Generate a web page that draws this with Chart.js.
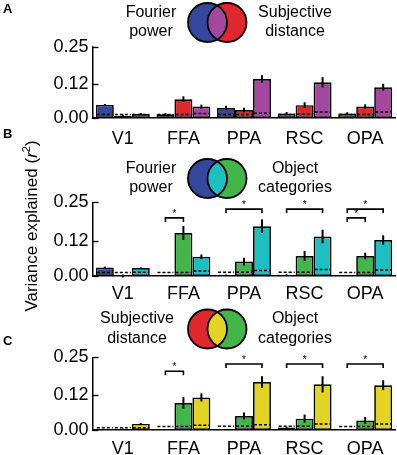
<!DOCTYPE html>
<html>
<head>
<meta charset="utf-8">
<script src="https://cdn.jsdelivr.net/npm/chart.js@4.4.1/dist/chart.umd.min.js"></script>
<style>
    body { margin: 0; background: #fff; width: 397px; height: 455px; overflow: hidden; position: relative; font-family: "Liberation Sans", Arial, sans-serif; }
    .panel { position: absolute; left: 0; }
    .letter { position: absolute; left: 3px; font-weight: bold; font-size: 13px; line-height: 13px; }
    #ytitle { position: absolute; left: 31px; top: 226px; transform: translate(-50%, -50%) rotate(-90deg); white-space: nowrap; font-size: 17px; }
</style>
</head>
<body>
<div class="panel" style="top:0px"><canvas id="chartA" width="397" height="150"></canvas></div>
<div class="panel" style="top:145px"><canvas id="chartB" width="397" height="163"></canvas></div>
<div class="panel" style="top:300px"><canvas id="chartC" width="397" height="162"></canvas></div>
<div class="letter" style="top:2px">A</div>
<div class="letter" style="top:127px">B</div>
<div class="letter" style="top:334px">C</div>
<div id="ytitle">Variance explained (<i>r</i><sup style="font-size:11px">2</sup>)</div>
<script>
// data ------------------------------------------------------------
const regions = ['V1', 'FFA', 'PPA', 'RSC', 'OPA'];
const yTicks = [0, 0.12, 0.25];
const yTickLabels = ['0.00', '0.12', '0.25'];

// A: Fourier power vs subjective distance
const fourierA = [0.046, 0.013, 0.035, 0.016, 0.016];
const distanceA = [0.008, 0.066, 0.028, 0.045, 0.040];
const sharedA = [0.014, 0.040, 0.137, 0.125, 0.108];
const fourierErrA = [0.003, 0.004, 0.008, 0.005, 0.004];
const distanceErrA = [0.004, 0.010, 0.008, 0.010, 0.008];
const sharedErrA = [0.003, 0.007, 0.013, 0.018, 0.012];
const fourierChanceA = [0.012, 0.012, 0.012, 0.012, 0.012];
const distanceChanceA = [0.012, 0.012, 0.012, 0.013, 0.012];
const sharedChanceA = [0.012, 0.016, 0.017, 0.021, 0.021];

// B: Fourier power vs object categories
const fourierB = [0.029, 0.000, 0.003, 0.004, 0.001];
const objectB = [0.000, 0.146, 0.049, 0.068, 0.068];
const sharedB = [0.027, 0.065, 0.169, 0.134, 0.122];
const fourierErrB = [0.003, 0.000, 0.002, 0.002, 0.000];
const objectErrB = [0.005, 0.024, 0.013, 0.017, 0.011];
const sharedErrB = [0.002, 0.008, 0.023, 0.023, 0.016];
const fourierChanceB = [0.012, 0.012, 0.013, 0.013, 0.012];
const objectChanceB = [0.012, 0.012, 0.013, 0.013, 0.012];
const sharedChanceB = [0.013, 0.017, 0.019, 0.022, 0.020];
const bracketsB = [[1, 0, 1, 0.197], [2, 0, 2, 0.227], [3, 0, 2, 0.227], [4, 0, 1, 0.197], [4, 0, 2, 0.227]];

// C: subjective distance vs object categories
const distanceC = [0.002, 0.000, 0.000, 0.009, 0.000];
const objectC = [0.003, 0.093, 0.048, 0.039, 0.033];
const sharedC = [0.021, 0.112, 0.165, 0.157, 0.154];
const distanceErrC = [0.001, 0.000, 0.000, 0.002, 0.000];
const objectErrC = [0.002, 0.020, 0.012, 0.014, 0.012];
const sharedErrC = [0.003, 0.014, 0.020, 0.028, 0.017];
const distanceChanceC = [0.008, 0.012, 0.013, 0.013, 0.012];
const objectChanceC = [0.008, 0.012, 0.013, 0.013, 0.012];
const sharedChanceC = [0.008, 0.016, 0.018, 0.021, 0.021];
const bracketsC = [[1, 0, 1, 0.202], [2, 0, 2, 0.227], [3, 0, 2, 0.227], [4, 0, 2, 0.227]];

const BLUE = '#34479d', RED = '#e1272e', PURPLE = '#a4479e';
const GREEN = '#43b54a', CYAN = '#1ebfc0', YELLOW = '#e3d423';

// error bars, chance lines, brackets, venn legend --------------------
const extras = {
    id: 'extras',
    afterDatasetsDraw(chart, args, opts) {
        const ctx = chart.ctx;
        const y = chart.scales.y;
        const area = chart.chartArea;
        ctx.save();
        ctx.strokeStyle = '#000';

        // inward tick marks on the y axis
        ctx.lineWidth = 1.3;
        yTicks.forEach(v => {
            const yy = Math.round(y.getPixelForValue(v)) + 0.5;
            ctx.beginPath();
            ctx.moveTo(area.left, yy);
            ctx.lineTo(area.left + 6, yy);
            ctx.stroke();
        });

        // chance level, dashed
        ctx.lineWidth = 1.5;
        ctx.setLineDash([3, 2]);
        opts.chance.forEach((arr, i) => {
            chart.getDatasetMeta(i).data.forEach((bar, j) => {
                const yy = y.getPixelForValue(arr[j]);
                ctx.beginPath();
                ctx.moveTo(bar.x - bar.width / 2 + 1, yy);
                ctx.lineTo(bar.x + bar.width / 2 - 1, yy);
                ctx.stroke();
            });
        });
        ctx.setLineDash([]);

        // error bars
        ctx.lineWidth = 2;
        opts.errors.forEach((arr, i) => {
            const values = chart.data.datasets[i].data;
            chart.getDatasetMeta(i).data.forEach((bar, j) => {
                if (!arr[j]) return;
                ctx.beginPath();
                ctx.moveTo(bar.x, y.getPixelForValue(values[j] - arr[j]));
                ctx.lineTo(bar.x, y.getPixelForValue(values[j] + arr[j]));
                ctx.stroke();
            });
        });

        // significance brackets
        ctx.lineWidth = 1.6;
        ctx.fillStyle = '#000';
        ctx.font = '10px "Liberation Sans", Arial, sans-serif';
        ctx.textAlign = 'center';
        ctx.textBaseline = 'alphabetic';
        (opts.brackets || []).forEach(([cat, from, to, v]) => {
            const x1 = chart.getDatasetMeta(from).data[cat].x;
            const x2 = chart.getDatasetMeta(to).data[cat].x;
            const yy = y.getPixelForValue(v);
            ctx.beginPath();
            ctx.moveTo(x1, yy + 4);
            ctx.lineTo(x1, yy);
            ctx.lineTo(x2, yy);
            ctx.lineTo(x2, yy + 4);
            ctx.stroke();
            ctx.fillText('*', (x1 + x2) / 2, yy - 1);
        });

        // venn legend
        const vn = opts.venn;
        const r = 19.5, cxL = 207.5, cxR = 227;
        ctx.fillStyle = vn.colors[0];
        ctx.beginPath(); ctx.arc(cxL, vn.cy, r, 0, Math.PI * 2); ctx.fill();
        ctx.fillStyle = vn.colors[1];
        ctx.beginPath(); ctx.arc(cxR, vn.cy, r, 0, Math.PI * 2); ctx.fill();
        ctx.save();
        ctx.beginPath(); ctx.arc(cxL, vn.cy, r, 0, Math.PI * 2); ctx.clip();
        ctx.fillStyle = vn.colors[2];
        ctx.beginPath(); ctx.arc(cxR, vn.cy, r, 0, Math.PI * 2); ctx.fill();
        ctx.restore();
        ctx.lineWidth = 1.8;
        ctx.beginPath(); ctx.arc(cxL, vn.cy, r, 0, Math.PI * 2); ctx.stroke();
        ctx.beginPath(); ctx.arc(cxR, vn.cy, r, 0, Math.PI * 2); ctx.stroke();

        ctx.fillStyle = '#000';
        ctx.font = '16px "Liberation Sans", Arial, sans-serif';
        vn.left.forEach((t, k) => ctx.fillText(t, vn.leftX, vn.cy - 6 + k * 19.5));
        vn.right.forEach((t, k) => ctx.fillText(t, 295, vn.cy - 6 + k * 19.5));
        ctx.restore();
    }
};

function makePanel(id, series, colors, errors, chance, brackets, venn, padTop, labelPad) {
    new Chart(document.getElementById(id).getContext('2d'), {
        type: 'bar',
        data: {
            labels: regions,
            datasets: series.map((s, i) => ({
                data: s,
                backgroundColor: colors[i],
                borderColor: '#000',
                borderWidth: 1.7,
                borderSkipped: false
            }))
        },
        options: {
            responsive: false,
            animation: false,
            events: [],
            layout: { padding: { top: padTop, right: 1.5, left: 0, bottom: 0 } },
            datasets: { bar: { categoryPercentage: 0.89, barPercentage: 1 } },
            plugins: {
                legend: { display: false },
                tooltip: { enabled: false },
                extras: { errors: errors, chance: chance, brackets: brackets, venn: venn }
            },
            scales: {
                x: {
                    grid: { display: false, drawTicks: false },
                    border: { display: true, color: '#000', width: 1.5 },
                    ticks: { color: '#000', padding: labelPad, font: { family: '"Liberation Sans", Arial, sans-serif', size: 18 } },
                    afterFit: s => { s.height = 32; }
                },
                y: {
                    min: 0,
                    max: 0.25,
                    afterBuildTicks: s => { s.ticks = yTicks.map(v => ({ value: v })); },
                    grid: { display: false, drawTicks: false },
                    border: { display: true, color: '#000', width: 1.5 },
                    ticks: {
                        color: '#000',
                        padding: 4,
                        font: { family: '"Liberation Sans", Arial, sans-serif', size: 18 },
                        callback: (v, i) => yTickLabels[i]
                    },
                    afterFit: s => { s.width = 92.5; }
                }
            }
        },
        plugins: [extras]
    });
}

makePanel('chartA', [fourierA, distanceA, sharedA], [BLUE, RED, PURPLE],
    [fourierErrA, distanceErrA, sharedErrA], [fourierChanceA, distanceChanceA, sharedChanceA], [],
    { cy: 22.5, colors: [BLUE, RED, PURPLE], left: ['Fourier', 'power'], right: ['Subjective', 'distance'], leftX: 151 }, 46.7, 10);

makePanel('chartB', [fourierB, objectB, sharedB], [BLUE, GREEN, CYAN],
    [fourierErrB, objectErrB, sharedErrB], [fourierChanceB, objectChanceB, sharedChanceB], bracketsB,
    { cy: 33.5, colors: [BLUE, GREEN, CYAN], left: ['Fourier', 'power'], right: ['Object', 'categories'], leftX: 151 }, 57.3, 7);

makePanel('chartC', [distanceC, objectC, sharedC], [RED, GREEN, YELLOW],
    [distanceErrC, objectErrC, sharedErrC], [distanceChanceC, objectChanceC, sharedChanceC], bracketsC,
    { cy: 29, colors: [RED, GREEN, YELLOW], left: ['Subjective', 'distance'], right: ['Object', 'categories'], leftX: 137 }, 57.3, 8);
</script>
</body>
</html>
